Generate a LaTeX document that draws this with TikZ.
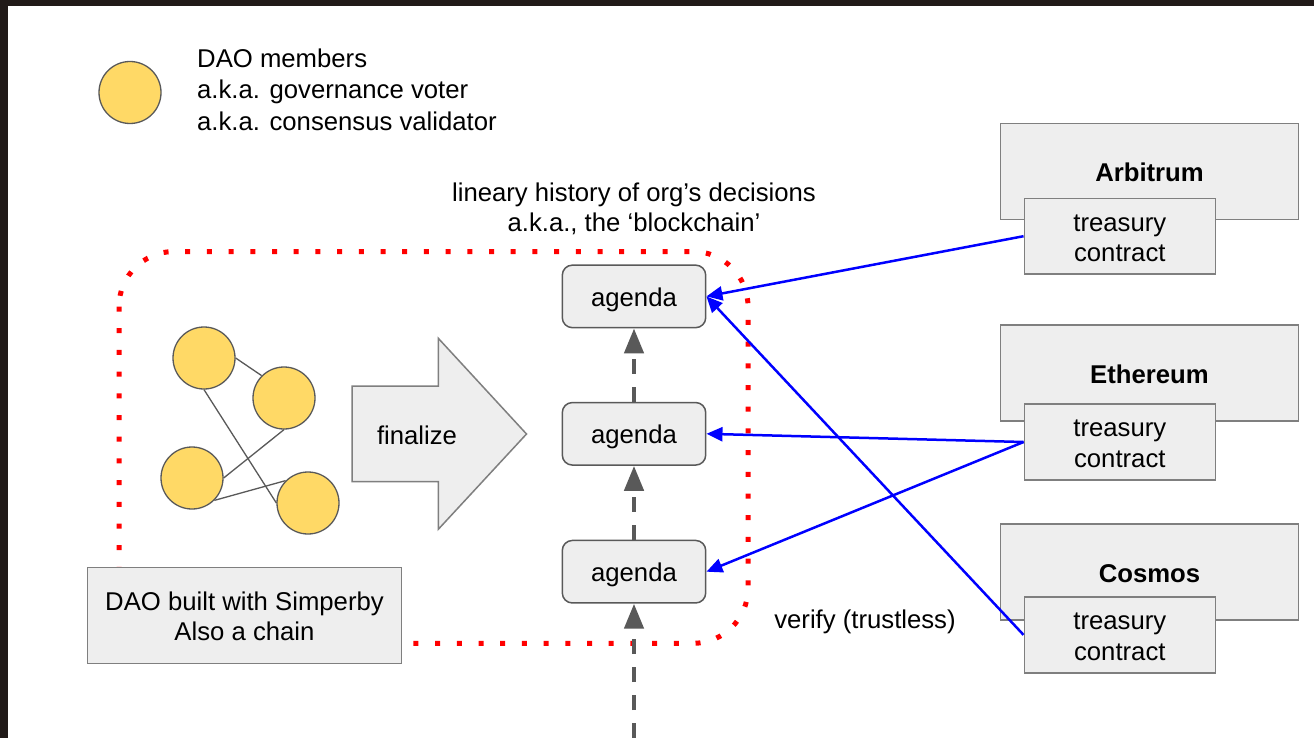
\documentclass[tikz,border=0pt]{standalone}
\usepackage{fontspec}
\setmainfont{Liberation Sans}
\usetikzlibrary{arrows.meta}
\definecolor{frame}{HTML}{211A18}
\definecolor{boxfill}{HTML}{EEEEEE}
\definecolor{boxline}{HTML}{7F7F7F}
\definecolor{member}{HTML}{FFD966}
\definecolor{memberline}{HTML}{595959}
\definecolor{chainline}{HTML}{595959}
\definecolor{link}{HTML}{0000FF}
\definecolor{dotred}{HTML}{FF0000}
\newcommand\tallstrut{\rule{0pt}{29.35pt}}
\begin{document}
\begin{tikzpicture}[x=1pt,y=-1pt,
  every node/.style={font=\fontsize{25.7}{30.5}\selectfont, inner sep=0pt, text=black},
  member/.style={circle, draw=memberline, line width=1.3pt, fill=member, minimum size=62pt},
  tie/.style={memberline, line width=1.3pt},
  plainbox/.style={rectangle, draw=boxline, line width=1.5pt, fill=boxfill, align=center},
  agendabox/.style={rectangle, rounded corners=10pt, draw=chainline, line width=1.5pt, fill=boxfill, minimum width=143.4pt, minimum height=62.5pt},
  chainbox/.style={plainbox, minimum width=297.6pt, minimum height=96pt, font=\fontsize{25.7}{30.5}\selectfont\bfseries},
  treasurybox/.style={plainbox, minimum width=191pt, minimum height=75.7pt},
  chainarrow/.style={chainline, line width=4.5pt, dash pattern=on 15pt off 13pt, -{Triangle[length=25pt,width=19pt]}},
  verifyarrow/.style={link, line width=2.5pt, -{Triangle[length=16pt,width=14pt]}},
  reddots/.style={dotred, line width=5pt, dash pattern=on 5pt off 16.7pt, rounded corners=55pt}
]
\useasboundingbox (0,0) rectangle (1314,738);
\fill[frame] (0,0) rectangle (1314,738);
\fill[white] (8,6) rectangle (1314,738);

% legend
\node[member] (legend) at (130,92.5) {};
\node[anchor=west, align=left, font=\fontsize{25.7}{31.5}\selectfont] (legendtext) at (197,92.4)
  {\strut DAO members\\\strut a.k.a. governance voter\\\strut a.k.a. consensus validator};

% chain title
\node[align=center] (title) at (634,210.4) {\strut lineary history of org’s decisions\\\strut a.k.a., the ‘blockchain’};

% red dotted boundary
\draw[reddots] (119,251.5) rectangle (748,643.3);

% DAO box
\node[plainbox, minimum width=314.4pt, minimum height=96pt] (dao) at (244.5,615.3)
  {\tallstrut\strut DAO built with Simperby\\\strut Also a chain};

% members network
\node[member] (m1) at (204,358) {};
\node[member] (m2) at (284,398) {};
\node[member] (m3) at (192,478) {};
\node[member] (m4) at (308,503) {};
\draw[tie] (m1.east) -- (m2.north west);
\draw[tie] (m1.south) -- (m4.west);
\draw[tie] (m2.south) -- (m3.east);
\draw[tie] (m3.south east) -- (m4.north west);

% finalize arrow
\draw[boxline, fill=boxfill, line width=1.5pt, line join=miter]
  (352,386) -- (438.3,386) -- (438.3,338.3) -- (526.5,434) -- (438.3,529.3) -- (438.3,481.7) -- (352,481.7) -- cycle;
\node (finalize) at (417,438.2) {\strut finalize};

% agendas
\node[agendabox] (ag1) at (634,296.4) {\tallstrut\strut agenda};
\node[agendabox] (ag2) at (634,433.8) {\tallstrut\strut agenda};
\node[agendabox] (ag3) at (634,571.7) {\tallstrut\strut agenda};
\coordinate (below) at (634,738);
\draw[chainarrow] (ag2.north) -- (ag1.south);
\draw[chainarrow] (ag3.north) -- (ag2.south);
\draw[chainarrow] (below) -- (ag3.south);

% chains
\node[chainbox] (arb) at (1149.5,171.3) {\tallstrut\strut Arbitrum};
\node[treasurybox] (arbT) at (1119.8,236.2) {\tallstrut\strut treasury\\\strut contract};
\node[chainbox] (eth) at (1149.5,373) {\tallstrut\strut Ethereum};
\node[treasurybox] (ethT) at (1119.8,442) {\tallstrut\strut treasury\\\strut contract};
\node[chainbox] (cos) at (1149.5,572.2) {\tallstrut\strut Cosmos};
\node[treasurybox] (cosT) at (1119.8,634.9) {\tallstrut\strut treasury\\\strut contract};

% verify arrows
\draw[verifyarrow] (arbT.west) -- (ag1.east);
\draw[verifyarrow] (ethT.west) -- (ag2.east);
\draw[verifyarrow] (ethT.west) -- (ag3.east);
\draw[verifyarrow] (cosT.west) -- (ag1.east);

\node (verify) at (865,622) {\strut verify (trustless)};
\end{tikzpicture}
\end{document}
